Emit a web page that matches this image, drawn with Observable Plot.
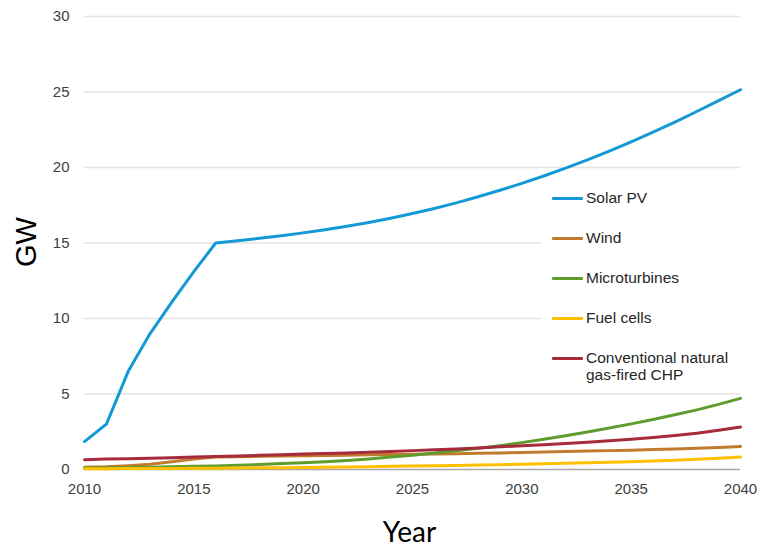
<!DOCTYPE html>
<html>
<head>
<meta charset="utf-8">
<script src="https://cdn.jsdelivr.net/npm/d3@7"></script>
<script src="https://cdn.jsdelivr.net/npm/@observablehq/plot@0.6"></script>
<style>
  html, body { margin: 0; padding: 0; background: #fff; }
  #chart { position: relative; width: 761px; height: 547px; }
  #legend {
    position: absolute; left: 541px; top: 180px; width: 210px; height: 210px;
    background: #fff; font-family: "Liberation Sans", Arial, sans-serif;
    font-size: 15.5px; color: #262626;
  }
  .item { position: absolute; left: 11px; display: flex; align-items: flex-start; }
  .swatch { width: 31px; height: 3px; margin-right: 3px; margin-top: 8px; border-radius: 1px; }
  .label { line-height: 17px; }
</style>
</head>
<body>
<div id="chart"></div>
<script>
// Distributed generation capacity outlook, GW by year
const years = [2010, 2011, 2012, 2013, 2014, 2015, 2016, 2017, 2018, 2019, 2020,
  2021, 2022, 2023, 2024, 2025, 2026, 2027, 2028, 2029, 2030,
  2031, 2032, 2033, 2034, 2035, 2036, 2037, 2038, 2039, 2040];

const solarPV = [1.85, 3.0, 6.5, 9.0, 11.1, 13.1, 15.0, 15.15, 15.31, 15.48, 15.67,
  15.88, 16.11, 16.36, 16.64, 16.95, 17.29, 17.66, 18.06, 18.49, 18.95,
  19.44, 19.96, 20.51, 21.09, 21.70, 22.34, 23.01, 23.71, 24.43, 25.15];

const wind = [0.15, 0.18, 0.25, 0.35, 0.52, 0.7, 0.82, 0.85, 0.87, 0.89, 0.91,
  0.93, 0.95, 0.97, 0.99, 1.01, 1.03, 1.05, 1.08, 1.1, 1.13,
  1.16, 1.19, 1.22, 1.25, 1.28, 1.32, 1.36, 1.41, 1.46, 1.52];

const microturbines = [0.1, 0.11, 0.13, 0.15, 0.18, 0.21, 0.24, 0.28, 0.33, 0.39, 0.45,
  0.52, 0.6, 0.7, 0.82, 0.95, 1.09, 1.24, 1.4, 1.58, 1.78,
  2.0, 2.24, 2.49, 2.75, 3.02, 3.31, 3.62, 3.95, 4.31, 4.71];

const fuelCells = [0.05, 0.05, 0.06, 0.06, 0.07, 0.08, 0.09, 0.1, 0.11, 0.12, 0.13,
  0.15, 0.17, 0.19, 0.21, 0.23, 0.25, 0.27, 0.3, 0.32, 0.35,
  0.38, 0.41, 0.44, 0.48, 0.52, 0.57, 0.62, 0.68, 0.75, 0.82];

const chp = [0.65, 0.7, 0.72, 0.75, 0.78, 0.82, 0.86, 0.9, 0.94, 0.98, 1.02,
  1.06, 1.1, 1.15, 1.2, 1.25, 1.3, 1.36, 1.42, 1.5, 1.57,
  1.64, 1.72, 1.81, 1.9, 2.0, 2.12, 2.25, 2.4, 2.6, 2.82];

const seriesNames = ["Solar PV", "Wind", "Microturbines", "Fuel cells",
  "Conventional natural gas-fired CHP"];
const seriesValues = [solarPV, wind, microturbines, fuelCells, chp];
const seriesColors = ["#139AD6", "#C27A2E", "#5E9C2E", "#FFC000", "#A62B3B"];
const yTicks = [0, 5, 10, 15, 20, 25, 30];
const xTicks = [2010, 2015, 2020, 2025, 2030, 2035, 2040];

// long-format table for the line mark
const rows = seriesNames.flatMap((name, i) =>
  years.map((year, j) => ({series: name, year, value: seriesValues[i][j]})));

const plot = Plot.plot({
  width: 761,
  height: 547,
  marginLeft: 84,
  marginRight: 21,
  marginTop: 16,
  marginBottom: 78,
  style: {fontFamily: "'Liberation Sans', Arial, sans-serif", fontSize: "15px", color: "#404040", background: "#fff"},
  x: {domain: [2010, 2040]},
  y: {domain: [0, 30]},
  color: {domain: seriesNames, range: seriesColors},
  marks: [
    Plot.ruleY(yTicks.filter(d => d > 0), {stroke: "#e3e3e3", strokeWidth: 1.6}),
    Plot.ruleY([0], {stroke: "#a8a8a8", strokeWidth: 1.6}),
    Plot.axisY({ticks: yTicks, tickSize: 0, tickPadding: 15, label: null}),
    Plot.axisX({ticks: xTicks, tickSize: 0, tickPadding: 14, tickFormat: "d", label: null}),
    Plot.line(rows, {x: "year", y: "value", z: "series", stroke: "series",
      strokeWidth: 3, strokeLinejoin: "round", strokeLinecap: "round"}),
    Plot.text(["GW"], {frameAnchor: "left", text: d => d, rotate: -90, dx: -58, dy: 24,
      fontSize: 29, fill: "#000", fontFamily: "'Liberation Sans', Arial, sans-serif"}),
    Plot.text(["Year"], {frameAnchor: "bottom", text: d => d, dx: -3, dy: 72,
      fontSize: 28, fill: "#000", fontFamily: "Lato, 'Open Sans', sans-serif"})
  ]
});

const chart = document.getElementById("chart");
chart.appendChild(plot);

// legend drawn from the plot's own color scale
const color = plot.scale("color");
const legend = document.createElement("div");
legend.id = "legend";
const tops = [9, 49, 89, 129, 169];
color.domain.forEach((name, i) => {
  const item = document.createElement("div");
  item.className = "item";
  item.style.top = tops[i] + "px";
  const sw = document.createElement("div");
  sw.className = "swatch";
  sw.style.background = color.range[i];
  const lab = document.createElement("div");
  lab.className = "label";
  lab.innerHTML = name === "Conventional natural gas-fired CHP"
    ? "Conventional natural<br>gas-fired CHP" : name;
  item.appendChild(sw);
  item.appendChild(lab);
  legend.appendChild(item);
});
chart.appendChild(legend);
</script>
</body>
</html>
